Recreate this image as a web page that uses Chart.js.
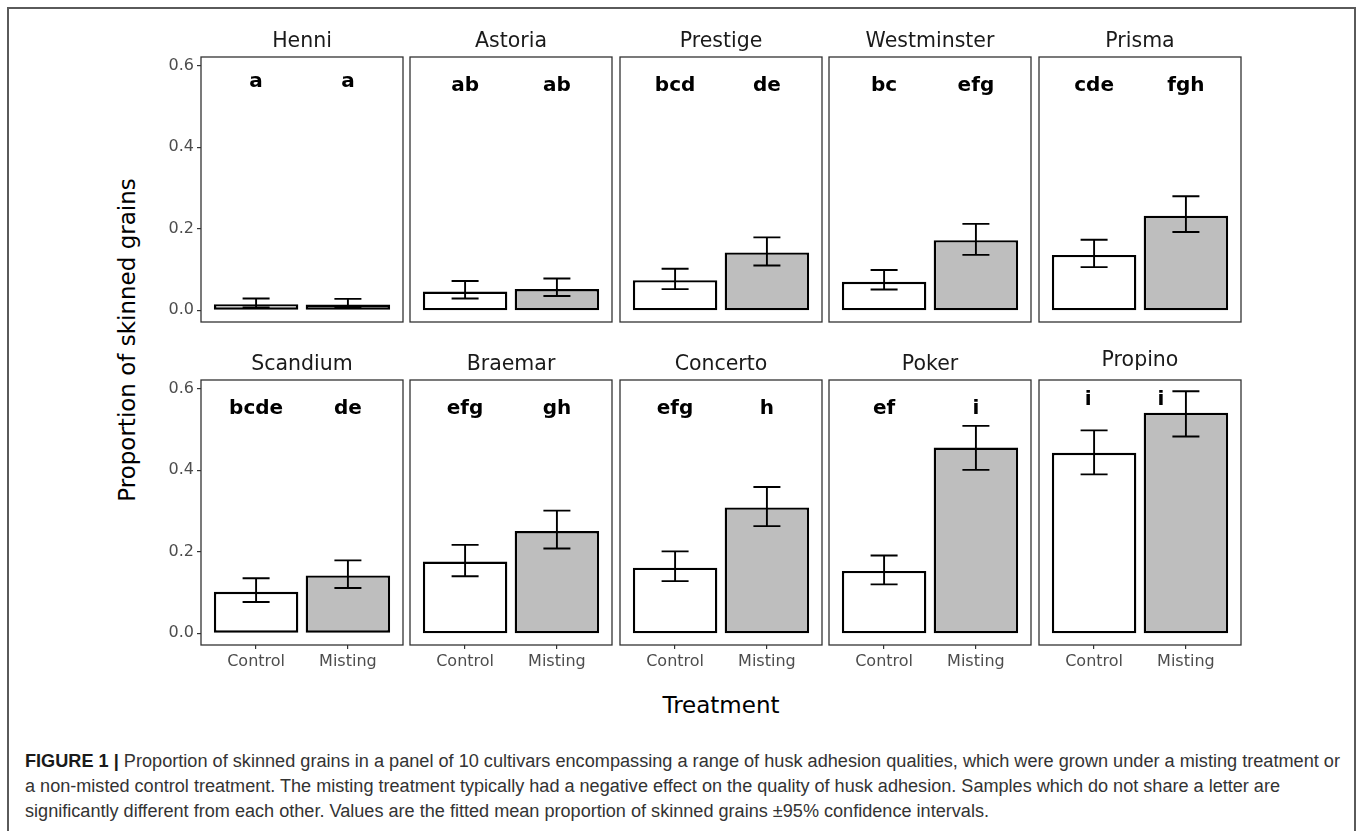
<!DOCTYPE html>
<html lang="en">
<head>
<meta charset="UTF-8">
<title>Proportion of skinned grains</title>
<script src="https://cdn.jsdelivr.net/npm/chart.js"></script>
<style>
    body {
        margin: 0;
        background: #fff;
        font-family: "DejaVu Sans", sans-serif;
    }
    #figure {
        position: relative;
        width: 1358px;
        height: 831px;
        overflow: hidden;
    }
    #frame {
        position: absolute;
        left: 7px;
        top: 7px;
        width: 1349px;
        height: 840px;
        border: 2px solid #5a5a5a;
        box-sizing: border-box;
    }
    canvas {
        position: absolute;
    }
    .axis-title {
        position: absolute;
        font-size: 23px;
        color: #000;
        white-space: nowrap;
        transform: translate(-50%, -50%);
    }
    .cap {
        position: absolute;
        left: 25px;
        font-family: "Liberation Sans Narrow", "Liberation Sans", Arial, sans-serif;
        font-size: 18px;
        line-height: 25px;
        color: #333;
        white-space: nowrap;
        transform-origin: left center;
    }
    .cap b {
        color: #1a1a1a;
    }
</style>
</head>
<body>
<div id="figure">
    <div id="frame"></div>
    <div class="axis-title" style="left:127px; top:340px; transform: translate(-50%, -50%) rotate(-90deg);">Proportion of skinned grains</div>
    <div class="axis-title" style="left:721px; top:705px;">Treatment</div>
    <div class="cap" style="top:749px;"><b>FIGURE 1 |</b> Proportion of skinned grains in a panel of 10 cultivars encompassing a range of husk adhesion qualities, which were grown under a misting treatment or</div>
    <div class="cap" style="top:774px;">a non-misted control treatment. The misting treatment typically had a negative effect on the quality of husk adhesion. Samples which do not share a letter are</div>
    <div class="cap" style="top:799px;">significantly different from each other. Values are the fitted mean proportion of skinned grains ±95% confidence intervals.</div>
</div>

<script>
    // Datos
    const cultivars = ["Henni", "Astoria", "Prestige", "Westminster", "Prisma",
                       "Scandium", "Braemar", "Concerto", "Poker", "Propino"];
    const treatments = ["Control", "Misting"];

    const controlMean = [0.015, 0.046, 0.074, 0.070, 0.136, 0.102, 0.176, 0.161, 0.153, 0.443];
    const controlLow  = [0.007, 0.029, 0.052, 0.051, 0.106, 0.077, 0.140, 0.128, 0.120, 0.390];
    const controlHigh = [0.029, 0.072, 0.102, 0.099, 0.173, 0.135, 0.217, 0.201, 0.191, 0.498];

    const mistingMean = [0.014, 0.052, 0.142, 0.172, 0.232, 0.142, 0.251, 0.309, 0.456, 0.541];
    const mistingLow  = [0.007, 0.035, 0.110, 0.136, 0.192, 0.111, 0.208, 0.263, 0.401, 0.483];
    const mistingHigh = [0.028, 0.078, 0.179, 0.212, 0.280, 0.179, 0.301, 0.359, 0.509, 0.594];

    const controlLetters = ["a", "ab", "bcd", "bc", "cde", "bcde", "efg", "efg", "ef", "i"];
    const mistingLetters = ["a", "ab", "de", "efg", "fgh", "de", "gh", "h", "i", "i"];

    const yTicks = [0, 0.2, 0.4, 0.6];

    // Layout of the facet grid
    const PANEL_W = 202, PANEL_H = 265;
    const PAD_L = 60, PAD_T = 40, PAD_R = 4, PAD_B = 40;
    const colLeft = [201, 410, 620, 829, 1039];
    const rowTop = [57, 380];

    const tickFont = { family: "DejaVu Sans", size: 16 };

    // error bars, letters, panel border and strip title
    const panelDecor = {
        id: "panelDecor",
        afterDatasetsDraw(chart, args, opts) {
            const ctx = chart.ctx;
            const a = chart.chartArea;
            const y = chart.scales.y;
            const bars = chart.getDatasetMeta(0).data;
            ctx.save();

            ctx.strokeStyle = "#000";
            ctx.lineWidth = 1.9;
            bars.forEach((bar, j) => {
                const lo = y.getPixelForValue(opts.low[j]);
                const hi = y.getPixelForValue(opts.high[j]);
                ctx.beginPath();
                ctx.moveTo(bar.x, lo); ctx.lineTo(bar.x, hi);
                ctx.moveTo(bar.x - 13.5, lo); ctx.lineTo(bar.x + 13.5, lo);
                ctx.moveTo(bar.x - 13.5, hi); ctx.lineTo(bar.x + 13.5, hi);
                ctx.stroke();
            });

            ctx.font = 'bold 20px "DejaVu Sans"';
            ctx.fillStyle = "#000";
            ctx.textAlign = "center";
            ctx.textBaseline = "alphabetic";
            bars.forEach((bar, j) => {
                ctx.fillText(opts.letters[j], bar.x + opts.letterDx[j], y.getPixelForValue(opts.letterY));
            });

            ctx.strokeStyle = "#333";
            ctx.lineWidth = 1.3;
            ctx.strokeRect(a.left, a.top, a.right - a.left, a.bottom - a.top);

            ctx.font = '20.5px "DejaVu Sans"';
            ctx.fillStyle = "#1a1a1a";
            ctx.textBaseline = "middle";
            ctx.fillText(opts.title, (a.left + a.right) / 2, a.top - opts.titleGap);
            ctx.restore();
        }
    };

    const figure = document.getElementById("figure");

    cultivars.forEach((name, i) => {
        const col = i % 5, row = Math.floor(i / 5);
        const isLeft = col === 0, isBottom = row === 1;

        const canvas = document.createElement("canvas");
        canvas.width = PAD_L + PANEL_W + PAD_R;
        canvas.height = PAD_T + PANEL_H + PAD_B;
        canvas.style.left = (colLeft[col] - PAD_L) + "px";
        canvas.style.top = (rowTop[row] - PAD_T) + "px";
        figure.appendChild(canvas);

        new Chart(canvas, {
            type: "bar",
            data: {
                datasets: [{
                    data: [
                        { x: 1, y: controlMean[i] },
                        { x: 2, y: mistingMean[i] }
                    ],
                    backgroundColor: ["#ffffff", "#bebebe"],
                    borderColor: "#000",
                    borderWidth: 2.4,
                    borderSkipped: false,
                    categoryPercentage: 1,
                    barPercentage: 0.92
                }]
            },
            options: {
                responsive: false,
                animation: false,
                layout: { padding: { left: 0, top: PAD_T, right: PAD_R, bottom: 0 } },
                plugins: {
                    legend: { display: false },
                    tooltip: { enabled: false },
                    panelDecor: {
                        title: name,
                        titleGap: name === "Propino" ? 19 : 15,
                        letters: [controlLetters[i], mistingLetters[i]],
                        letterY: name === "Propino" ? 0.56 : (name === "Henni" ? 0.548 : 0.537),
                        letterDx: name === "Propino" ? [-6, -25] : [0, 0],
                        low: [controlLow[i], mistingLow[i]],
                        high: [controlHigh[i], mistingHigh[i]]
                    }
                },
                scales: {
                    x: {
                        type: "linear",
                        min: 0.4,
                        max: 2.6,
                        offset: false,
                        afterBuildTicks: s => { s.ticks = [{ value: 1 }, { value: 2 }]; },
                        afterFit: s => { s.height = PAD_B; },
                        border: { display: false },
                        grid: {
                            display: isBottom,
                            offset: false,
                            drawOnChartArea: false,
                            tickLength: 4,
                            color: "#333",
                            lineWidth: 1.2
                        },
                        ticks: {
                            display: isBottom,
                            autoSkip: false,
                            maxRotation: 0,
                            padding: 3,
                            color: "#4d4d4d",
                            font: tickFont,
                            callback: v => treatments[v - 1]
                        }
                    },
                    y: {
                        min: -0.0287,
                        max: 0.6216,
                        afterBuildTicks: s => { s.ticks = yTicks.map(v => ({ value: v })); },
                        afterFit: s => { s.width = PAD_L; },
                        border: { display: false },
                        grid: {
                            display: isLeft,
                            drawOnChartArea: false,
                            tickLength: 4,
                            color: "#333",
                            lineWidth: 1.2
                        },
                        ticks: {
                            display: isLeft,
                            padding: 3,
                            color: "#4d4d4d",
                            font: tickFont,
                            callback: v => v.toFixed(1)
                        }
                    }
                }
            },
            plugins: [panelDecor]
        });
    });

    // stretch the caption lines to the widths of the printed caption
    const capWidths = [1315, 1255, 964];
    document.querySelectorAll(".cap").forEach((el, k) => {
        const w = el.getBoundingClientRect().width;
        el.style.transform = "scaleX(" + (capWidths[k] / w) + ")";
    });
</script>
</body>
</html>
